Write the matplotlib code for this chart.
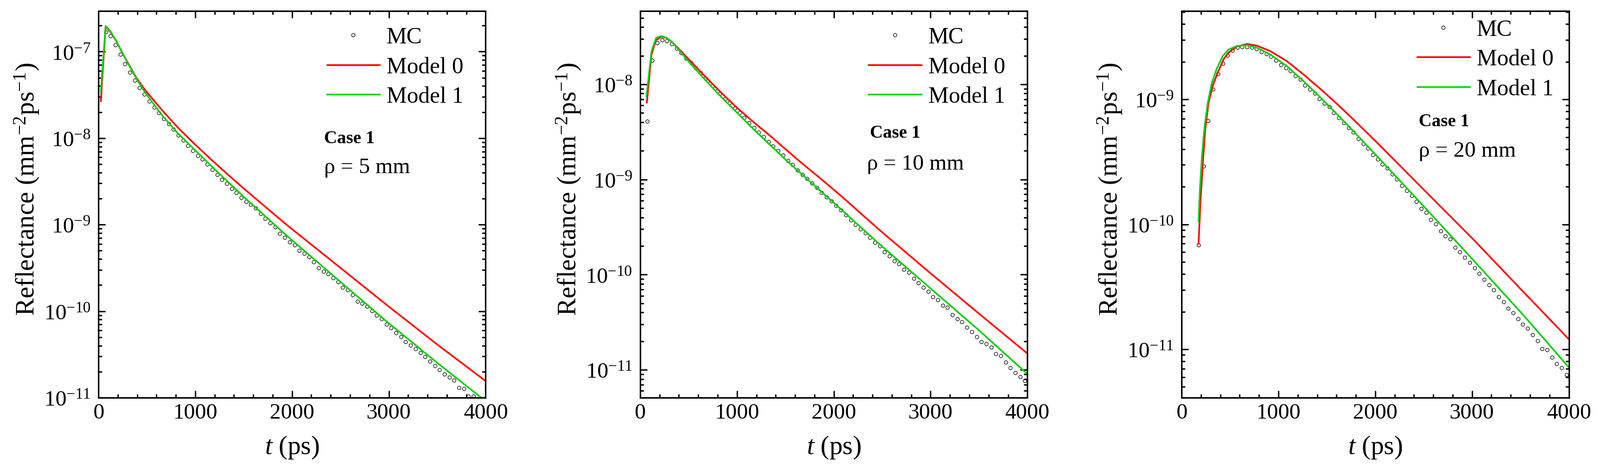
import numpy as np
import matplotlib
matplotlib.use("Agg")
import matplotlib.pyplot as plt
from matplotlib.ticker import LogLocator, MultipleLocator, FuncFormatter, NullFormatter

plt.rcParams.update({
    "font.family": "Liberation Serif",
    "mathtext.fontset": "custom",
    "mathtext.rm": "Liberation Serif",
    "mathtext.it": "Liberation Serif:italic",
    "mathtext.bf": "Liberation Serif:bold",
})

# ---- data (reflectance given as log10) ----
# rho = 5 mm
mc5_t = np.arange(75, 3876, 50)
mc5_log = [-6.775, -6.817, -6.925, -7.035, -7.140, -7.237, -7.332, -7.419, -7.492, -7.573,
           -7.644, -7.708, -7.775, -7.835, -7.900, -7.967, -8.025, -8.088, -8.146, -8.202,
           -8.246, -8.300, -8.362, -8.423, -8.477, -8.525, -8.583, -8.631, -8.688, -8.733,
           -8.769, -8.81, -8.87, -8.93, -8.98, -9.03, -9.10, -9.15, -9.202, -9.233,
           -9.297, -9.333, -9.372, -9.429, -9.500, -9.539, -9.568, -9.616, -9.660, -9.727,
           -9.756, -9.810, -9.887, -9.910, -9.945, -9.997, -10.050, -10.087, -10.154, -10.193,
           -10.249, -10.295, -10.353, -10.395, -10.435, -10.483, -10.526, -10.578, -10.631, -10.676,
           -10.728, -10.766, -10.799, -10.887, -10.895, -10.983, -10.983]
m0_5_t = [25, 75, 125, 187, 256, 325, 393, 479, 565, 651, 823, 995, 1167, 1339, 1510, 1682,
          1949, 2464, 2980, 3495, 4000]
m0_5_log = [-7.573, -6.708, -6.775, -6.880, -7.035, -7.169, -7.304, -7.439, -7.554, -7.669,
            -7.881, -8.070, -8.250, -8.423, -8.590, -8.754, -9.006, -9.467, -9.930, -10.381, -10.808]
m1_5_t = [25, 75, 125, 187, 256, 393, 479, 651, 823, 995, 1167, 1339, 1510, 1949, 2464, 2980,
          3495, 4000]
m1_5_log = [-7.458, -6.704, -6.766, -6.885, -7.035, -7.313, -7.467, -7.727, -7.948, -8.135,
            -8.323, -8.506, -8.688, -9.131, -9.627, -10.122, -10.593, -11.04]

# rho = 10 mm
mc10_t = np.arange(75, 3976, 50)
mc10_log = [-8.388, -7.747, -7.563, -7.532, -7.544, -7.575, -7.624, -7.671, -7.727, -7.776,
            -7.829, -7.881, -7.939, -7.990, -8.042, -8.096, -8.152, -8.196, -8.252, -8.301,
            -8.350, -8.405, -8.458, -8.505, -8.551, -8.601, -8.650, -8.699, -8.743, -8.804,
            -8.846, -8.900, -8.948, -8.991, -9.040, -9.087, -9.140, -9.184, -9.227, -9.274,
            -9.320, -9.375, -9.425, -9.472, -9.519, -9.564, -9.608, -9.661, -9.699, -9.764,
            -9.804, -9.857, -9.887, -9.944, -9.979, -10.041, -10.089, -10.133, -10.177, -10.233,
            -10.264, -10.325, -10.346, -10.420, -10.464, -10.496, -10.553, -10.600, -10.653, -10.705,
            -10.728, -10.763, -10.831, -10.850, -10.920, -10.979, -11.032, -11.072, -11.116]
m0_10_t = [69, 117, 160, 217, 272, 332, 409, 478, 650, 822, 994, 1166, 1338, 1510, 1682, 1854,
           2017, 2095, 2465, 2981, 3497, 3997]
m0_10_log = [-8.192, -7.689, -7.540, -7.500, -7.511, -7.558, -7.640, -7.712, -7.895, -8.073,
             -8.240, -8.393, -8.537, -8.689, -8.839, -8.982, -9.122, -9.19, -9.524, -9.970,
             -10.407, -10.826]
m1_10_t = [65, 117, 165, 217, 272, 332, 409, 478, 650, 822, 994, 1166, 1338, 1510, 1682, 1854,
           2009, 2465, 2981, 3497, 3997]
m1_10_log = [-8.126, -7.654, -7.511, -7.493, -7.511, -7.558, -7.651, -7.733, -7.930, -8.117,
             -8.292, -8.467, -8.633, -8.799, -8.956, -9.113, -9.253, -9.673, -10.128, -10.582, -11.041]

# rho = 20 mm
mc20_t = np.arange(175, 3976, 50)
mc20_log = [-10.167, -9.534, -9.171, -8.920, -8.797, -8.71, -8.646, -8.610, -8.586, -8.580,
            -8.580, -8.586, -8.597, -8.620, -8.637, -8.656, -8.686, -8.722, -8.746, -8.773,
            -8.813, -8.840, -8.886, -8.920, -8.953, -8.997, -9.033, -9.060, -9.107, -9.147,
            -9.189, -9.227, -9.264, -9.314, -9.354, -9.390, -9.441, -9.478, -9.52, -9.55,
            -9.60, -9.64, -9.69, -9.73, -9.77, -9.818, -9.874, -9.904, -9.961, -9.997,
            -10.052, -10.095, -10.119, -10.185, -10.223, -10.264, -10.306, -10.350, -10.395, -10.442,
            -10.486, -10.526, -10.582, -10.622, -10.672, -10.708, -10.758, -10.802, -10.833, -10.886,
            -10.933, -10.998, -11.005, -11.062, -11.116, -11.147, -11.205]
m0_20_t = [175, 193, 218, 244, 278, 321, 373, 433, 484, 570, 674, 777, 914, 1086, 1258, 1430,
           1602, 1774, 2024, 2601, 3014, 3530, 3995]
m0_20_log = [-10.155, -9.848, -9.521, -9.240, -9.027, -8.893, -8.786, -8.680, -8.626, -8.577,
             -8.557, -8.570, -8.613, -8.693, -8.800, -8.914, -9.034, -9.160, -9.350, -9.800,
             -10.121, -10.54, -10.915]
m1_20_t = [175, 189, 210, 236, 270, 313, 364, 425, 484, 570, 674, 777, 914, 1086, 1258, 1430,
           1602, 1774, 2024, 2420, 3014, 3530, 3995]
m1_20_log = [-9.974, -9.721, -9.454, -9.227, -9.027, -8.866, -8.753, -8.653, -8.602, -8.573,
             -8.566, -8.586, -8.640, -8.733, -8.853, -8.982, -9.116, -9.254, -9.459, -9.788,
             -10.287, -10.726, -11.140]

rhos = [5, 10, 20]
ylims = [(1e-11, 2.95e-7), (5.1e-12, 5.9e-8), (4.1e-12, 5.1e-9)]

RED = "#ff0000"
GREEN = "#14cc14"

fig = plt.figure(figsize=(32.04, 9.45), dpi=100)
lefts = [0.0615, 0.4001, 0.7385]
leg_pos = [(0.59, 0.959), (0.59, 0.959), (0.608, 0.979)]
case_pos = [(0.583, 0.659), (0.594, 0.673), (0.612, 0.703)]
rho_pos = [(0.583, 0.582), (0.585, 0.591), (0.612, 0.624)]

panels = [
    (mc5_t, mc5_log, m0_5_t, m0_5_log, m1_5_t, m1_5_log),
    (mc10_t, mc10_log, m0_10_t, m0_10_log, m1_10_t, m1_10_log),
    (mc20_t, mc20_log, m0_20_t, m0_20_log, m1_20_t, m1_20_log),
]

def decade_label(v, pos):
    return r"$\mathregular{10^{%d}}$" % int(round(np.log10(v)))

for i, (mct, mcl, t0, l0, t1, l1) in enumerate(panels):
    ax = fig.add_axes([lefts[i], 0.1556, 0.2420, 0.8201])
    ax.plot(mct, 10.0 ** np.array(mcl), "o", ms=5, mfc="none", mec="black", mew=0.8, label="MC")
    ax.plot(t0, 10.0 ** np.array(l0), color=RED, lw=2.4, label="Model 0")
    ax.plot(t1, 10.0 ** np.array(l1), color=GREEN, lw=2.4, label="Model 1")

    ax.set_yscale("log")
    ax.set_xlim(0, 4000)
    ax.set_ylim(*ylims[i])
    ax.xaxis.set_major_locator(MultipleLocator(1000))
    ax.xaxis.set_minor_locator(MultipleLocator(200))
    ax.yaxis.set_major_locator(LogLocator(base=10))
    ax.yaxis.set_minor_locator(LogLocator(base=10, subs=np.arange(2, 10)))
    ax.yaxis.set_major_formatter(FuncFormatter(decade_label))
    ax.yaxis.set_minor_formatter(NullFormatter())

    ax.tick_params(which="both", direction="in", top=True, right=True, width=2, labelsize=32)
    ax.tick_params(which="major", length=10)
    ax.tick_params(which="minor", length=5)
    ax.tick_params(axis="x", pad=7)
    ax.tick_params(axis="y", pad=11)
    for s in ax.spines.values():
        s.set_linewidth(2.2)

    ax.set_ylabel(r"Reflectance (mm$^{-2}$ps$^{-1}$)", fontsize=38)
    ax.set_xlabel(r"$t$ (ps)", fontsize=38)
    ax.yaxis.set_label_coords(-0.148, 0.54)
    ax.xaxis.set_label_coords(0.5, -0.095)

    ax.legend(loc="upper left", bbox_to_anchor=leg_pos[i], frameon=False, fontsize=33,
              borderpad=0, borderaxespad=0, handlelength=2.3, handletextpad=0.3,
              labelspacing=0.37, numpoints=1)
    ax.text(case_pos[i][0], case_pos[i][1], "Case 1", transform=ax.transAxes,
            fontsize=26, fontweight="bold", va="baseline")
    ax.text(rho_pos[i][0], rho_pos[i][1], "\u03c1 = %d mm" % rhos[i], transform=ax.transAxes,
            fontsize=32, va="baseline")

fig.savefig("out.png", dpi=100)
